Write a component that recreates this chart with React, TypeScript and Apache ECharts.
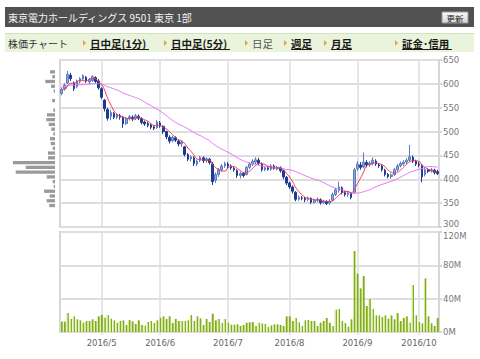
import React, { useEffect, useRef } from 'react';
import * as echarts from 'echarts';

// trading days (2016)
const aprDays = [12, 13, 14, 15, 18, 19, 20, 21, 22, 25, 26, 27, 28];
const mayDays = [2, 6, 9, 10, 11, 12, 13, 16, 17, 18, 19, 20, 23, 24, 25, 26, 27, 30, 31];
const junDays = [1, 2, 3, 6, 7, 8, 9, 10, 13, 14, 15, 16, 17, 20, 21, 22, 23, 24, 27, 28, 29, 30];
const julDays = [1, 4, 5, 6, 7, 8, 11, 12, 13, 14, 15, 19, 20, 21, 22, 25, 26, 27, 28, 29];
const augDays = [1, 2, 3, 4, 5, 8, 9, 10, 12, 15, 16, 17, 18, 19, 22, 23, 24, 25, 26, 29, 30, 31];
const sepDays = [1, 2, 5, 6, 7, 8, 9, 12, 13, 14, 15, 16, 20, 21, 23, 26, 27, 28, 29, 30];
const octDays = [3, 4, 5, 6, 7, 11, 12];

const opens = [
  580, 590, 602, 618, 602, 594, 605, 610, 614, 604, 607, 613, 606,
  590, 566, 546, 532, 538, 530, 533, 530, 517, 527, 530, 528, 532, 527, 520, 517, 514, 510, 508,
  518, 511, 500, 488, 481, 487, 480, 474, 468, 452, 443, 445, 432, 440, 445, 440, 442, 432, 398, 410, 420, 428,
  432, 428, 423, 418, 408, 412, 410, 425, 432, 436, 440, 432, 420, 424, 421, 428, 422, 424, 418, 404,
  392, 384, 373, 358, 361, 360, 358, 360, 352, 356, 357, 351, 353, 350, 356, 368, 377, 382, 372, 368, 370, 373,
  422, 430, 426, 435, 430, 433, 438, 430, 428, 419, 410, 406, 410, 420, 428, 432, 436, 440, 446, 438,
  432, 428, 410, 420, 418, 419, 416,
];
const closes = [
  588, 597, 620, 611, 590, 606, 611, 617, 606, 609, 615, 605, 592,
  572, 548, 528, 540, 530, 535, 530, 516, 527, 531, 527, 533, 528, 519, 516, 513, 509, 507, 520,
  512, 500, 489, 480, 488, 482, 474, 478, 452, 442, 447, 433, 438, 446, 439, 443, 435, 395, 410, 420, 428, 433,
  428, 424, 420, 408, 412, 408, 425, 432, 438, 441, 433, 420, 424, 421, 428, 423, 425, 418, 405, 392,
  384, 375, 358, 362, 360, 357, 361, 352, 356, 358, 351, 354, 349, 354, 368, 378, 384, 372, 368, 371, 362, 420,
  432, 425, 436, 430, 434, 440, 432, 428, 420, 410, 406, 409, 420, 428, 433, 436, 440, 447, 438, 432,
  430, 405, 420, 417, 420, 414, 412,
];
const lows = [
  576, 586, 600, 606, 585, 591, 601, 607, 602, 600, 604, 602, 588,
  568, 542, 523, 524, 526, 526, 525, 508, 514, 523, 522, 524, 524, 515, 512, 509, 505, 503, 506,
  508, 495, 484, 475, 477, 478, 469, 468, 448, 438, 437, 428, 428, 436, 434, 435, 431, 388, 392, 405, 416, 424,
  423, 420, 416, 403, 402, 404, 408, 422, 428, 432, 430, 416, 417, 418, 418, 420, 419, 414, 400, 388,
  380, 370, 354, 355, 356, 352, 354, 348, 349, 352, 347, 348, 346, 347, 354, 365, 372, 368, 364, 363, 358, 370,
  418, 420, 423, 425, 426, 429, 428, 424, 416, 406, 402, 401, 407, 416, 425, 428, 432, 436, 434, 428,
  425, 394, 406, 413, 414, 410, 409,
];
const highs = [
  592, 601, 627, 623, 605, 609, 614, 620, 616, 612, 618, 616, 610,
  593, 568, 550, 545, 541, 538, 537, 533, 531, 535, 534, 537, 536, 530, 523, 521, 517, 513, 524,
  522, 513, 502, 492, 491, 490, 483, 481, 470, 455, 450, 448, 441, 449, 448, 446, 445, 436, 414, 424, 432, 437,
  436, 431, 426, 421, 416, 415, 428, 436, 442, 446, 445, 435, 427, 427, 432, 431, 428, 427, 420, 407,
  395, 387, 375, 366, 365, 363, 364, 362, 359, 362, 360, 357, 356, 358, 372, 382, 395, 385, 376, 374, 373, 424,
  438, 436, 456, 440, 438, 446, 442, 434, 431, 422, 413, 412, 424, 432, 437, 440, 444, 472, 450, 441,
  436, 431, 424, 423, 424, 422, 420,
];
// closes of the 24 sessions before the first one (for the moving averages)
const priorCloses = [572, 578, 584, 590, 596, 600, 603, 598, 594, 590, 596, 601, 606, 604, 598, 594, 590, 596, 600, 602, 596, 582, 585, 590];

// volume in millions of shares
const volumesM = [
  12.4, 12.4, 22.8, 15.6, 18.8, 15.2, 14, 11.2, 13.2, 13.2, 15.2, 13.2, 18.8,
  20.4, 17.2, 20.4, 16, 14, 11.2, 13.2, 14, 8.4, 14.4, 12.8, 9.6, 14, 8.4, 7.6, 12, 13.2, 10.8, 14,
  17.2, 18.8, 15.6, 18.8, 10.8, 15.6, 13.2, 13.2, 13.2, 14, 20.4, 13.2, 18.8, 16.4, 8.4, 15.6, 12, 22, 14, 15.6, 10.8, 15.6,
  11.2, 8.8, 8.8, 9.2, 7.2, 8.4, 11.2, 11.6, 12, 7.2, 11.2, 10.4, 9.6, 6, 8, 9.2, 9.2, 8.4, 7.2, 18.8,
  18.8, 13.2, 16.8, 11.6, 7.2, 14, 14.4, 13.2, 13.2, 7.2, 11.2, 13.2, 16.8, 11.2, 7.2, 26.8, 27.6, 13.2, 10.8, 6.4, 15.2, 97.2,
  70, 52.4, 67.2, 31.2, 39.6, 27.6, 20, 20, 18, 20, 16, 20, 15.2, 22.8, 13.2, 16.8, 18.8, 11.2, 56.4, 20,
  12, 10.4, 64.4, 18.8, 10.4, 7.2, 16.8,
];

// price-by-volume profile, bins of 10 yen from 300 to 640 (relative volume)
const profileBins = [300, 310, 320, 330, 340, 350, 360, 370, 380, 390, 400, 410, 420, 430, 440, 450, 460, 470, 480, 490, 500, 510, 520, 530, 540, 550, 560, 570, 580, 590, 600, 610, 620, 630, 640];
const profileValues = [0, 0, 0, 0, 5.7, 8.3, 5.3, 11, 1.3, 2.3, 8.3, 39.3, 29.3, 42, 7, 7, 2.3, 4.3, 5, 1.7, 3.7, 6.3, 8.7, 8, 1.7, 0, 2.7, 0, 1.3, 4, 9.7, 2.7, 5, 0, 0];

const priceTicks = [300, 350, 400, 450, 500, 550, 600, 650];
const volumeTicksM = [0, 40, 80, 120];

const months: [number, number[]][] = [
  [4, aprDays], [5, mayDays], [6, junDays], [7, julDays], [8, augDays], [9, sepDays], [10, octDays],
];

export default function App() {
  const ref = useRef<HTMLDivElement>(null);
  useEffect(() => {
    if (!ref.current) return;
    const chart = echarts.init(ref.current, null, { renderer: 'svg' });

    const dates: string[] = [];
    const monthStart: number[] = [];
    months.forEach(([m, days]) => {
      days.forEach((d, k) => {
        if (k === 0 && m !== 4) monthStart.push(dates.length);
        dates.push(`2016/${m}/${d}`);
      });
    });

    const candles = dates.map((_, i) => [opens[i], closes[i], lows[i], highs[i]]);
    const all = priorCloses.concat(closes);
    const ma = (n: number) =>
      closes.map((_, i) => {
        const end = i + priorCloses.length;
        let s = 0;
        for (let k = end - n + 1; k <= end; k++) s += all[k];
        return +(s / n).toFixed(2);
      });
    const ma5 = ma(5);
    const ma25 = ma(25);
    const volumes = volumesM.map((v) => v * 1e6);

    const gridLine = '#dedede';
    const axisFont = 'DejaVu Sans';
    const jp = 'Noto Sans CJK JP';
    const lbl = { color: '#777', fontSize: 8.5, fontFamily: axisFont };

    const monthLines = {
      silent: true,
      symbol: 'none',
      z: 1,
      label: { show: false },
      emphasis: { disabled: true },
      lineStyle: { color: gridLine, width: 1.5, type: 'solid' },
      data: monthStart.map((i) => ({ xAxis: dates[i] })),
    };

    const tri = (x: number, y: number) => ({
      type: 'polygon',
      shape: { points: [[x, y - 3], [x + 3, y], [x, y + 3]] },
      style: { fill: '#f0a030' },
    });
    const link = (x: number, text: string, w: number) => [
      tri(x - 7, 43),
      {
        type: 'text', x, y: 43,
        style: { text, fill: '#1a1a1a', fontSize: 10.5, fontWeight: 'bold', fontFamily: jp, verticalAlign: 'middle' },
      },
      { type: 'line', shape: { x1: x, y1: 49.5, x2: x + w, y2: 49.5 }, style: { stroke: '#1a1a1a', lineWidth: 1 } },
    ];

    const graphics: any[] = [
      { type: 'rect', shape: { x: 5, y: 7, width: 469, height: 20 }, style: { fill: '#515151' } },
      {
        type: 'text', x: 8, y: 17,
        style: { text: '東京電力ホールディングス 9501 東京 1部', fill: '#f4f4f4', fontSize: 10, fontFamily: jp, verticalAlign: 'middle' },
      },
      {
        type: 'rect', shape: { x: 442, y: 12, width: 26, height: 11 },
        style: {
          fill: new echarts.graphic.LinearGradient(0, 0, 0, 1, [
            { offset: 0, color: '#fafafa' }, { offset: 1, color: '#d6d6d6' },
          ]),
          stroke: '#9a9a9a', lineWidth: 1,
        },
      },
      {
        type: 'text', x: 455, y: 17.5,
        style: { text: '更新', fill: '#222', fontSize: 8.5, fontFamily: jp, align: 'center', verticalAlign: 'middle' },
      },
      { type: 'rect', shape: { x: 5, y: 33, width: 469, height: 19 }, style: { fill: '#eaf4dc' } },
      { type: 'line', shape: { x1: 5, y1: 33.5, x2: 474, y2: 33.5 }, style: { stroke: '#cfe2b8', lineWidth: 1 } },
      {
        type: 'text', x: 8, y: 43,
        style: { text: '株価チャート', fill: '#333', fontSize: 10, fontFamily: jp, verticalAlign: 'middle' },
      },
      ...link(90, '日中足(1分)', 59),
      ...link(171, '日中足(5分)', 59),
      tri(245, 43),
      {
        type: 'text', x: 252, y: 43,
        style: { text: '日足', fill: '#555', fontSize: 10.5, fontFamily: jp, verticalAlign: 'middle' },
      },
      ...link(291, '週足', 21),
      ...link(331, '月足', 21),
      ...link(402, '証金･信用', 50),
    ];

    const option: any = {
      animation: false,
      backgroundColor: '#ffffff',
      textStyle: { fontFamily: axisFont },
      graphic: graphics,
      grid: [
        { left: 60, top: 60, width: 379, height: 167, show: true, borderColor: '#d6d6d6', borderWidth: 2 },
        { left: 60, top: 232, width: 379, height: 100, show: true, borderColor: '#d6d6d6', borderWidth: 2 },
        { left: 10, top: 60, width: 45, height: 167 },
      ],
      xAxis: [
        {
          type: 'category', gridIndex: 0, data: dates, boundaryGap: true,
          axisLine: { show: false }, axisTick: { show: false }, axisLabel: { show: false }, splitLine: { show: false },
        },
        {
          type: 'category', gridIndex: 1, data: dates, boundaryGap: true,
          axisLine: { show: false },
          axisTick: {
            show: true, alignWithLabel: true, length: 3,
            interval: (i: number) => monthStart.includes(i),
            lineStyle: { color: gridLine, width: 1.5 },
          },
          axisLabel: {
            interval: (i: number) => monthStart.includes(i),
            formatter: (v: string) => v.split('/').slice(0, 2).join('/'),
            color: '#666', fontSize: 8.5, fontFamily: axisFont, margin: 6,
          },
          splitLine: { show: false },
        },
        { type: 'value', gridIndex: 2, min: 0, max: 45, inverse: true, show: false },
      ],
      yAxis: [
        {
          type: 'value', gridIndex: 0, position: 'right',
          min: priceTicks[0], max: priceTicks[priceTicks.length - 1], interval: 50,
          axisLine: { show: true, lineStyle: { color: '#d6d6d6', width: 2 } },
          axisTick: { show: true, length: 3, lineStyle: { color: '#d6d6d6', width: 2 } },
          axisLabel: {
            ...lbl, margin: 4,
            formatter: (v: number) => (v === priceTicks[0] ? `{lo|${v}}` : `${v}`),
            rich: { lo: { ...lbl, padding: [0, 0, 7, 0] } },
          },
          splitLine: { show: true, lineStyle: { color: gridLine, width: 2 } },
        },
        {
          type: 'value', gridIndex: 1, position: 'right',
          min: 0, max: volumeTicksM[volumeTicksM.length - 1] * 1e6, interval: 40e6,
          axisLine: { show: true, lineStyle: { color: '#d6d6d6', width: 2 } },
          axisTick: { show: true, length: 3, lineStyle: { color: '#d6d6d6', width: 2 } },
          axisLabel: {
            ...lbl, margin: 4,
            formatter: (v: number) => {
              const m = Math.round(v / 1e6);
              return m === volumeTicksM[volumeTicksM.length - 1] ? `{hi|${m}M}` : `${m}M`;
            },
            rich: { hi: { ...lbl, padding: [7, 0, 0, 0] } },
          },
          splitLine: { show: true, lineStyle: { color: gridLine, width: 2 } },
        },
        {
          type: 'category', gridIndex: 2, data: profileBins.map(String), boundaryGap: true, show: false,
        },
      ],
      series: [
        {
          name: 'profile', type: 'bar', xAxisIndex: 2, yAxisIndex: 2,
          data: profileValues, barWidth: 3.3, itemStyle: { color: '#9a9a9a' }, silent: true,
        },
        {
          name: 'MA25', type: 'line', xAxisIndex: 0, yAxisIndex: 0, data: ma25,
          symbol: 'none', smooth: true, z: 3,
          lineStyle: { color: '#e36ef5', width: 1 }, silent: true,
        },
        {
          name: 'price', type: 'candlestick', xAxisIndex: 0, yAxisIndex: 0, data: candles,
          barWidth: '68%', z: 2,
          itemStyle: {
            color: '#8ea7da', color0: '#1d3b93',
            borderColor: '#5b7cc2', borderColor0: '#1d3b93', borderWidth: 1,
          },
          markLine: monthLines,
        },
        {
          name: 'MA5', type: 'line', xAxisIndex: 0, yAxisIndex: 0, data: ma5,
          symbol: 'none', smooth: true, z: 4,
          lineStyle: { color: '#ee3653', width: 1 }, silent: true,
        },
        {
          name: 'volume', type: 'bar', xAxisIndex: 1, yAxisIndex: 1, data: volumes,
          barWidth: '76%',
          itemStyle: {
            color: new echarts.graphic.LinearGradient(0, 0, 1, 0, [
              { offset: 0, color: '#cfe49c' }, { offset: 0.4, color: '#cfe49c' },
              { offset: 0.45, color: '#82ad17' }, { offset: 1, color: '#82ad17' },
            ]),
          },
          markLine: monthLines,
        },
      ],
    };
    chart.setOption(option);
    return () => chart.dispose();
  }, []);

  return (
    <div
      ref={ref}
      style={{ position: 'fixed', left: 0, top: 0, width: 480, height: 359, background: '#fff' }}
    />
  );
}
